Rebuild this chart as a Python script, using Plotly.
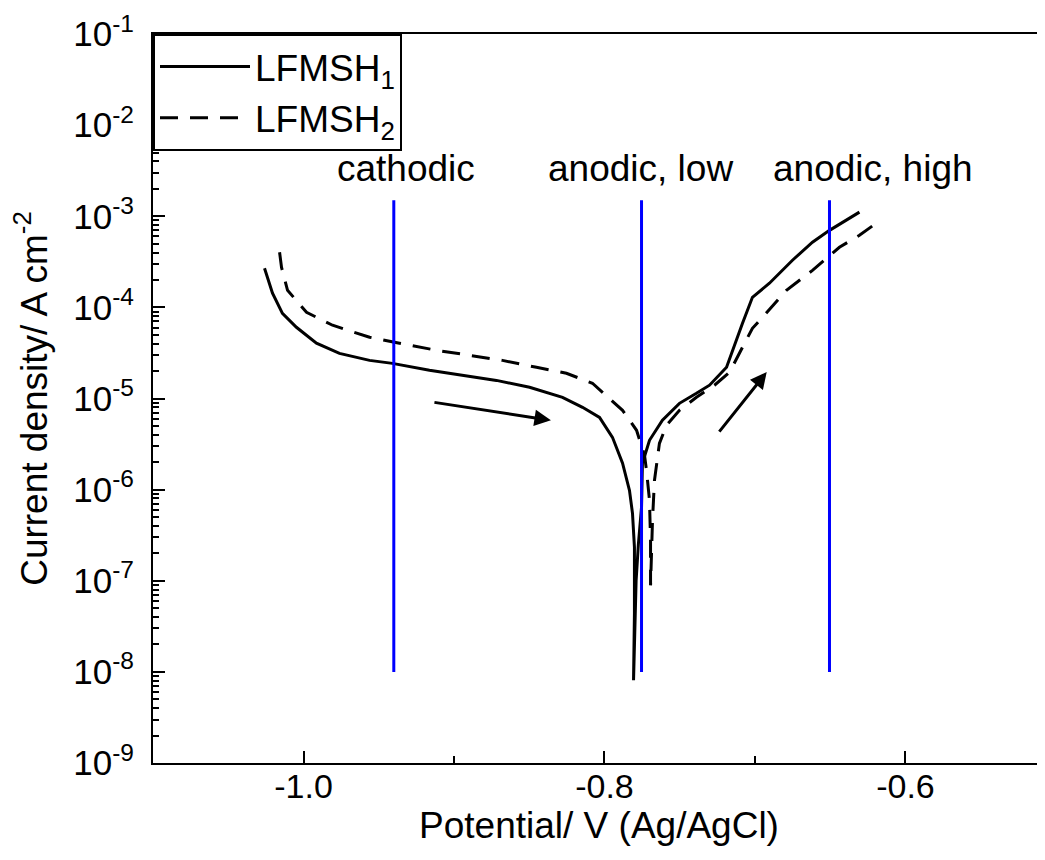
import plotly.graph_objects as go

# ---- data (Potential / V vs Ag/AgCl, current density / A cm^-2) ----
lfmsh1_potential = [-1.0259, -1.0206, -1.0140, -1.0047, -0.9914, -0.9761, -0.9561, -0.9409,
                    -0.9163, -0.8944, -0.8718, -0.8498, -0.8279, -0.8146, -0.8033, -0.7947,
                    -0.7880, -0.7834, -0.7814, -0.7801, -0.7801, -0.7807,
                    -0.7790, -0.7775, -0.7754, -0.7748, -0.7701, -0.7615, -0.7502, -0.7389,
                    -0.7302, -0.7189, -0.7149, -0.7083, -0.7017, -0.6904, -0.6751, -0.6618,
                    -0.6505, -0.6306]
lfmsh1_current = [2.69e-4, 1.43e-4, 8.61e-5, 6.05e-5, 4.04e-5, 3.13e-5, 2.62e-5, 2.43e-5,
                  2.04e-5, 1.80e-5, 1.58e-5, 1.33e-5, 1.03e-5, 8.0e-6, 6.2e-6, 3.75e-6,
                  1.95e-6, 9.8e-7, 5.5e-7, 2.33e-7, 4.4e-8, 8.1e-9,
                  1.0e-7, 2.5e-7, 6.4e-7, 1.95e-6, 3.48e-6, 5.77e-6, 8.85e-6, 1.14e-5,
                  1.40e-5, 2.20e-5, 3.38e-5, 6.68e-5, 1.29e-4, 1.84e-4, 3.29e-4, 5.19e-4,
                  7.0e-4, 1.11e-3]

lfmsh2_potential = [-1.0159, -1.0146, -1.0106, -0.9980, -0.9807, -0.9561, -0.9362, -0.9116,
                    -0.8897, -0.8678, -0.8452, -0.8253, -0.8080, -0.7880, -0.7787, -0.7734,
                    -0.7721, -0.7701, -0.7694, -0.7694,
                    -0.7681, -0.7668, -0.7635, -0.7588, -0.7502, -0.7389, -0.7269, -0.7169,
                    -0.7083, -0.7017, -0.6950, -0.6791, -0.6618, -0.6439, -0.6306, -0.6186]
lfmsh2_current = [4.03e-4, 2.75e-4, 1.54e-4, 8.83e-5, 6.37e-5, 4.70e-5, 4.04e-5, 3.38e-5,
                  2.98e-5, 2.62e-5, 2.20e-5, 1.89e-5, 1.47e-5, 7.41e-6, 4.48e-6, 2.38e-6,
                  1.63e-6, 7.64e-7, 2.77e-7, 8.9e-8,
                  4.6e-7, 1.26e-6, 3.22e-6, 5.08e-6, 7.41e-6, 1.03e-5, 1.40e-5, 1.94e-5,
                  3.65e-5, 5.90e-5, 7.78e-5, 1.54e-4, 2.55e-4, 4.57e-4, 6.18e-4, 8.59e-4]

region_labels = ["cathodic", "anodic, low", "anodic, high"]
region_potentials = [-0.940, -0.7754, -0.6505]
region_label_potentials = [-0.9319, -0.7764, -0.6213]
region_current_span = [1.0e-8, 1.5e-3]
region_label_log_current = -2.48

# arrows (tail -> head), potentials and log10 current
arrow_tail_potential = [-0.9140, -0.7245]
arrow_tail_logi = [-5.04, -5.38]
arrow_head_potential = [-0.8356, -0.6922]
arrow_head_logi = [-5.24, -4.71]

x_tick_vals = [-1.0, -0.8, -0.6]
x_tick_text = ["-1.0", "-0.8", "-0.6"]
y_exponents = [-9, -8, -7, -6, -5, -4, -3, -2, -1]

FONT = "Liberation Sans, Arial, sans-serif"
FS = 34
TITLE_FS = 37

fig = go.Figure()

fig.add_trace(go.Scatter(
    x=lfmsh1_potential, y=lfmsh1_current, mode="lines",
    name="LFMSH<sub>1</sub>", line=dict(color="black", width=3),
    legendgroup="a"))
fig.add_trace(go.Scatter(
    x=lfmsh2_potential, y=lfmsh2_current, mode="lines",
    name="LFMSH<sub>2</sub>", line=dict(color="black", width=3, dash="18px,12px"),
    legendgroup="b"))

for xv in region_potentials:
    fig.add_trace(go.Scatter(
        x=[xv, xv], y=region_current_span, mode="lines",
        line=dict(color="#0000ff", width=3), showlegend=False, hoverinfo="skip"))

for lab, xv in zip(region_labels, region_label_potentials):
    fig.add_annotation(x=xv, y=region_label_log_current, xref="x", yref="y",
                       text=lab, showarrow=False, xanchor="center", yanchor="middle",
                       font=dict(family=FONT, size=37, color="black"))

for tx, ty, hx, hy in zip(arrow_tail_potential, arrow_tail_logi, arrow_head_potential, arrow_head_logi):
    fig.add_annotation(x=hx, y=hy, ax=tx, ay=ty, xref="x", yref="y", axref="x", ayref="y",
                       text="", showarrow=True, arrowhead=2, arrowsize=1.1, arrowwidth=3,
                       arrowcolor="black", standoff=0, startstandoff=0)

minor_y = [m * 10.0 ** k for k in range(-9, -1) for m in range(2, 10)]

# the page body adds an 8 px margin, so the figure is sized to the visible area
fig.update_layout(
    width=1037, height=852,
    margin=dict(l=145, r=0, t=26, b=97),
    paper_bgcolor="white", plot_bgcolor="white",
    font=dict(family=FONT, size=FS, color="black"),
    showlegend=True,
    legend=dict(x=0, y=1, xanchor="left", yanchor="top",
                bordercolor="black", borderwidth=2, bgcolor="white",
                font=dict(family=FONT, size=37, color="black"),
                itemwidth=90, traceorder="grouped", tracegroupgap=0),
    xaxis=dict(range=[-1.1, -0.5073], showline=True, linecolor="black", linewidth=2,
               mirror=True, showgrid=False, zeroline=False, automargin=False,
               ticks="inside", ticklen=12, tickwidth=2, tickcolor="black",
               tickmode="array", tickvals=x_tick_vals, ticktext=x_tick_text,
               ticklabelstandoff=-8,
               minor=dict(ticks="inside", ticklen=7, tickwidth=2, tickcolor="black",
                          dtick=0.1, tick0=-1.1, showgrid=False),
               title=dict(text="Potential/ V (Ag/AgCl)", standoff=4,
                          font=dict(family=FONT, size=TITLE_FS))),
    yaxis=dict(type="log", range=[-9, -1], showline=True, linecolor="black", linewidth=2,
               mirror=False, showgrid=False, zeroline=False, automargin=False,
               ticks="inside", ticklen=12, tickwidth=2, tickcolor="black",
               tickmode="array", tickvals=[10.0 ** e for e in y_exponents],
               ticktext=["10<sup>%d</sup>" % e for e in y_exponents],
               ticklabelstandoff=10,
               tickfont=dict(family=FONT, size=35),
               minor=dict(ticks="inside", ticklen=6, tickwidth=1.5, tickcolor="black",
                          tickvals=minor_y, showgrid=False),
               title=dict(text="Current density/ A cm<sup>-2</sup>", standoff=22,
                          font=dict(family=FONT, size=TITLE_FS))),
)

fig.write_html("out.html")
